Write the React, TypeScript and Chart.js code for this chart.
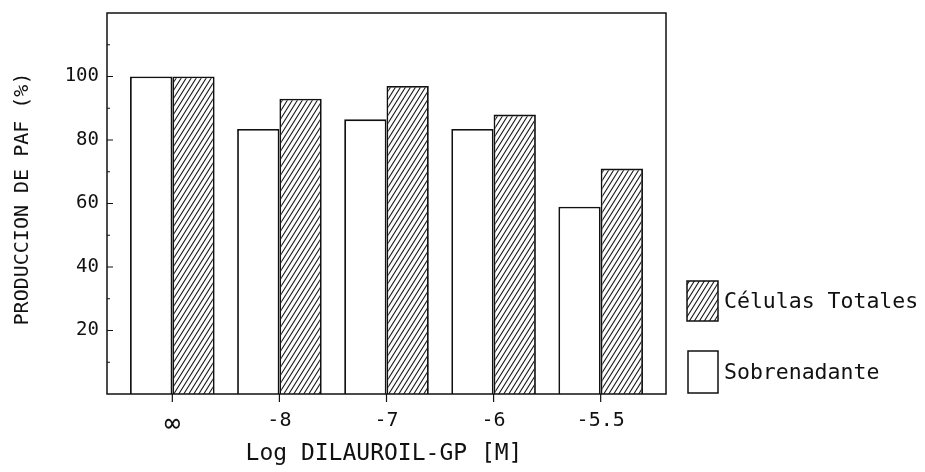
import React, { useEffect, useRef } from "react";
import { Chart, registerables } from "chart.js";

Chart.register(...registerables);

const categories = ["∞", "-8", "-7", "-6", "-5.5"];
const categoryPositions = [0, 1, 2, 3, 4];
const sobrenadante = [100, 83.5, 86.5, 83.5, 59];
const celulasTotales = [100, 93, 97, 88, 71];
const yMajorTicks = [20, 40, 60, 80, 100];
const yMinorTicks = [10, 30, 50, 70, 90, 110];
const xTitle = "Log DILAUROIL-GP [M]";
const yTitle = "PRODUCCION DE PAF (%)";
const legendLabels = ["Células Totales", "Sobrenadante"];

const FONT = "'DejaVu Sans Mono', 'Liberation Mono', monospace";
const INK = "#111";

function makeHatch(): CanvasPattern | string {
  const w = 5;
  const h = 8;
  const c = document.createElement("canvas");
  c.width = w;
  c.height = h;
  const g = c.getContext("2d");
  if (!g) return "#888";
  g.fillStyle = "#fff";
  g.fillRect(0, 0, w, h);
  g.strokeStyle = "#1a1a1a";
  g.lineWidth = 1.1;
  g.beginPath();
  g.moveTo(-w, 2 * h);
  g.lineTo(2 * w, -h);
  g.moveTo(-2 * w, 2 * h);
  g.lineTo(w, -h);
  g.moveTo(0, 2 * h);
  g.lineTo(3 * w, -h);
  g.stroke();
  const p = g.createPattern(c, "repeat");
  return p || "#888";
}

export default function App() {
  const ref = useRef<HTMLCanvasElement | null>(null);

  useEffect(() => {
    const canvas = ref.current;
    if (!canvas) return;
    const hatch = makeHatch();

    const framePlugin = {
      id: "frame",
      afterDraw(chart: any) {
        const ctx = chart.ctx as CanvasRenderingContext2D;
        const a = chart.chartArea;
        const xs = chart.scales.x;
        const ys = chart.scales.y;
        ctx.save();
        ctx.strokeStyle = INK;
        ctx.lineWidth = 1.5;
        ctx.strokeRect(a.left, a.top, a.right - a.left, a.bottom - a.top);

        ctx.lineWidth = 1.2;
        ctx.beginPath();
        yMajorTicks.forEach((v) => {
          const y = ys.getPixelForValue(v);
          ctx.moveTo(a.left, y);
          ctx.lineTo(a.left + 6, y);
        });
        yMinorTicks.forEach((v) => {
          const y = ys.getPixelForValue(v);
          ctx.moveTo(a.left, y);
          ctx.lineTo(a.left + 3, y);
        });
        categoryPositions.forEach((p) => {
          const x = xs.getPixelForValue(p);
          ctx.moveTo(x, a.bottom);
          ctx.lineTo(x, a.bottom + 8);
        });
        ctx.stroke();

        ctx.fillStyle = INK;
        ctx.textAlign = "center";
        ctx.textBaseline = "middle";
        ctx.font = `23px ${FONT}`;
        ctx.fillText(xTitle, 384, 454);

        ctx.save();
        ctx.translate(23, 199);
        ctx.rotate(-Math.PI / 2);
        ctx.font = `20px ${FONT}`;
        ctx.fillText(yTitle, 0, 0);
        ctx.restore();

        // legend
        ctx.font = `21.5px ${FONT}`;
        const boxes = [
          { x: 687, y: 281, w: 31, h: 40, fill: hatch },
          { x: 688, y: 351, w: 30, h: 42, fill: "#fff" },
        ];
        boxes.forEach((b, i) => {
          ctx.fillStyle = b.fill as any;
          ctx.fillRect(b.x, b.y, b.w, b.h);
          ctx.strokeStyle = INK;
          ctx.lineWidth = 1.5;
          ctx.strokeRect(b.x, b.y, b.w, b.h);
          ctx.fillStyle = INK;
          ctx.textAlign = "left";
          ctx.fillText(legendLabels[i], 724, b.y + b.h / 2 + 1);
        });
        ctx.restore();
      },
    };

    const chart = new Chart(canvas, {
      type: "bar",
      data: {
        datasets: [
          {
            label: legendLabels[1],
            data: categoryPositions.map((x, i) => ({ x, y: sobrenadante[i] })),
            backgroundColor: "#ffffff",
            borderColor: INK,
            borderWidth: 1.8,
            categoryPercentage: 0.79,
            barPercentage: 1.0,
          },
          {
            label: legendLabels[0],
            data: categoryPositions.map((x, i) => ({ x, y: celulasTotales[i] })),
            backgroundColor: hatch as any,
            borderColor: INK,
            borderWidth: 1.8,
            categoryPercentage: 0.79,
            barPercentage: 1.0,
          },
        ],
      },
      options: {
        responsive: false,
        animation: false,
        layout: { padding: { left: 0, top: 13, right: 259, bottom: 0 } },
        plugins: {
          legend: { display: false },
          tooltip: { enabled: false },
        },
        scales: {
          x: {
            type: "linear",
            offset: false,
            min: -0.61,
            max: 4.61,
            grid: { display: false, drawTicks: false, offset: false },
            border: { display: false },
            afterFit: (s: any) => {
              s.height = 78;
              s.paddingLeft = 0;
              s.paddingRight = 0;
            },
            ticks: {
              stepSize: 1,
              includeBounds: false,
              autoSkip: false,
              maxRotation: 0,
              padding: 15,
              color: INK,
              font: (c: any) =>
                c.tick && c.tick.value === 0
                  ? { family: FONT, size: 27 }
                  : { family: FONT, size: 20 },
              callback: (v: any) => {
                const n = Number(v);
                return Number.isInteger(n) && n >= 0 && n < categories.length ? categories[n] : "";
              },
            },
          },
          y: {
            min: 0,
            max: 120,
            grid: { display: false, drawTicks: false },
            border: { display: false },
            afterFit: (s: any) => {
              s.width = 107;
              s.paddingTop = 0;
              s.paddingBottom = 0;
            },
            ticks: {
              stepSize: 20,
              padding: 8,
              color: INK,
              font: { family: FONT, size: 19 },
              callback: (v: any) => (yMajorTicks.includes(Number(v)) ? String(v) : ""),
            },
          },
        },
      } as any,
      plugins: [framePlugin],
    });

    return () => chart.destroy();
  }, []);

  return (
    <div style={{ position: "fixed", left: 0, top: 0, width: 925, height: 472, background: "#fff" }}>
      <canvas ref={ref} width={925} height={472} style={{ display: "block" }} />
    </div>
  );
}
